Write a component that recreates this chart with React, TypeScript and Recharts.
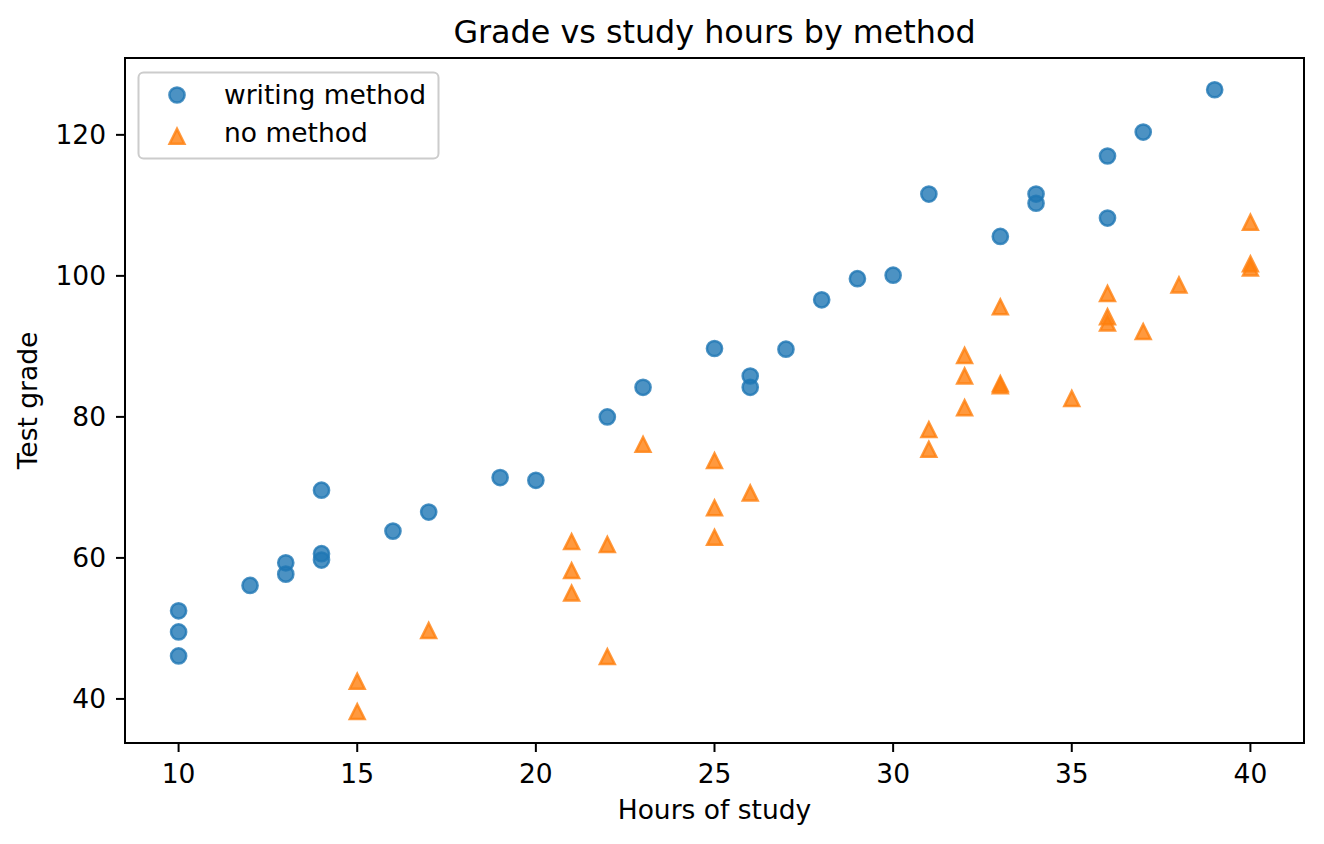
import React from 'react';
import { ScatterChart, Scatter, XAxis, YAxis, ReferenceArea } from 'recharts';

const writingHours = [10, 10, 10, 12, 13, 13, 14, 14, 14, 16, 17, 19, 20, 22, 23, 25, 26, 26, 27, 28, 29, 30, 31, 33, 34, 34, 36, 36, 37, 39];
const writingGrades = [52.5, 49.5, 46.1, 56.1, 59.3, 57.7, 69.6, 60.6, 59.7, 63.8, 66.5, 71.4, 71.0, 80.0, 84.2, 89.7, 85.8, 84.2, 89.6, 96.6, 99.6, 100.1, 111.6, 105.6, 111.6, 110.3, 117.0, 108.2, 120.4, 126.4];

const noHours = [15, 15, 17, 21, 21, 21, 22, 22, 23, 25, 25, 25, 26, 31, 31, 32, 32, 32, 33, 33, 33, 35, 36, 36, 36, 37, 38, 40, 40, 40];
const noGrades = [42.5, 38.2, 49.7, 62.3, 58.2, 55.0, 61.9, 46.0, 76.1, 73.8, 67.1, 62.9, 69.2, 78.2, 75.4, 88.7, 85.8, 81.3, 95.6, 84.7, 84.4, 82.6, 97.5, 94.2, 93.3, 92.1, 98.7, 107.6, 101.7, 101.1];

const xTicks = [10, 15, 20, 25, 30, 35, 40];
const yTicks = [40, 60, 80, 100, 120];
const xDomain = [8.5, 41.5];
const yDomain = [33.75, 130.9];

const seriesNames = ['writing method', 'no method'];
const titleText = 'Grade vs study hours by method';
const xLabelText = 'Hours of study';
const yLabelText = 'Test grade';

const BLUE = '#1f77b4';
const ORANGE = '#ff7f0e';
const FONT = '"DejaVu Sans", sans-serif';
const FS = 26.5;
const TITLE_FS = 31.8;

const writingData = writingHours.map((x, i) => ({ x, y: writingGrades[i] }));
const noData = noHours.map((x, i) => ({ x, y: noGrades[i] }));

const CircleMark = (props: any) => {
  const { cx, cy } = props;
  if (cx == null || cy == null) return null;
  return (
    <circle cx={cx} cy={cy} r={7.6} fill={BLUE} fillOpacity={0.8} stroke={BLUE} strokeOpacity={0.8} strokeWidth={2.5} />
  );
};

const TriMark = (props: any) => {
  const { cx, cy } = props;
  if (cx == null || cy == null) return null;
  const s = 7.4;
  const d = `M${cx},${cy - s} L${cx - s},${cy + s} L${cx + s},${cy + s} Z`;
  return (
    <path d={d} fill={ORANGE} fillOpacity={0.8} stroke={ORANGE} strokeOpacity={0.8} strokeWidth={2.5} strokeLinejoin="miter" />
  );
};

const XLabel = (props: any) => {
  const vb = props.viewBox || {};
  return (
    <text x={vb.x + vb.width / 2} y={vb.y + 76} textAnchor="middle" fontSize={FS} fontFamily={FONT} fill="#000">
      {xLabelText}
    </text>
  );
};

const YLabel = (props: any) => {
  const vb = props.viewBox || {};
  const cx = 37;
  const cy = vb.y + vb.height / 2;
  return (
    <text x={cx} y={cy} textAnchor="middle" fontSize={FS} fontFamily={FONT} fill="#000" transform={`rotate(-90, ${cx}, ${cy})`}>
      {yLabelText}
    </text>
  );
};

export default function App() {
  return (
    <div style={{ position: 'absolute', left: 0, top: 0, width: 1324, height: 844, background: '#fff' }}>
      <ScatterChart width={1324} height={844} margin={{ top: 58, right: 20, left: 0, bottom: 0 }}>
        <XAxis
          type="number"
          dataKey="x"
          domain={xDomain}
          ticks={xTicks}
          height={101}
          allowDataOverflow
          tickSize={9}
          tickMargin={12}
          axisLine={{ stroke: '#000', strokeWidth: 2 }}
          tickLine={{ stroke: '#000', strokeWidth: 2 }}
          tick={{ fill: '#000', fontSize: FS, fontFamily: FONT }}
          label={<XLabel />}
        />
        <YAxis
          type="number"
          dataKey="y"
          domain={yDomain}
          ticks={yTicks}
          width={125}
          allowDataOverflow
          tickSize={9}
          tickMargin={10}
          axisLine={{ stroke: '#000', strokeWidth: 2 }}
          tickLine={{ stroke: '#000', strokeWidth: 2 }}
          tick={{ fill: '#000', fontSize: FS, fontFamily: FONT }}
          label={<YLabel />}
        />
        <ReferenceArea x1={xDomain[0]} x2={xDomain[1]} y1={yDomain[0]} y2={yDomain[1]} fill="none" stroke="#000" strokeWidth={2} fillOpacity={0} />
        <Scatter name={seriesNames[0]} data={writingData} shape={<CircleMark />} isAnimationActive={false} />
        <Scatter name={seriesNames[1]} data={noData} shape={<TriMark />} isAnimationActive={false} />
      </ScatterChart>
      <svg width={1324} height={58} style={{ position: 'absolute', left: 0, top: 0 }}>
        <text x={714.5} y={43} textAnchor="middle" fontSize={TITLE_FS} fontFamily={FONT} fill="#000">
          {titleText}
        </text>
      </svg>
      <svg width={304} height={90} style={{ position: 'absolute', left: 137, top: 71 }}>
        <rect x={1.5} y={1.5} width={300} height={86} rx={5} ry={5} fill="#fff" fillOpacity={0.8} stroke="#cccccc" strokeWidth={2} />
        <circle cx={40} cy={24} r={7.6} fill={BLUE} fillOpacity={0.8} stroke={BLUE} strokeOpacity={0.8} strokeWidth={2.5} />
        <path d={`M40,${65.3 - 7.4} L${40 - 7.4},${65.3 + 7.4} L${40 + 7.4},${65.3 + 7.4} Z`} fill={ORANGE} fillOpacity={0.8} stroke={ORANGE} strokeOpacity={0.8} strokeWidth={2.5} />
        <text x={87} y={33} fontSize={FS} fontFamily={FONT} fill="#000">{seriesNames[0]}</text>
        <text x={87} y={71} fontSize={FS} fontFamily={FONT} fill="#000">{seriesNames[1]}</text>
      </svg>
    </div>
  );
}
